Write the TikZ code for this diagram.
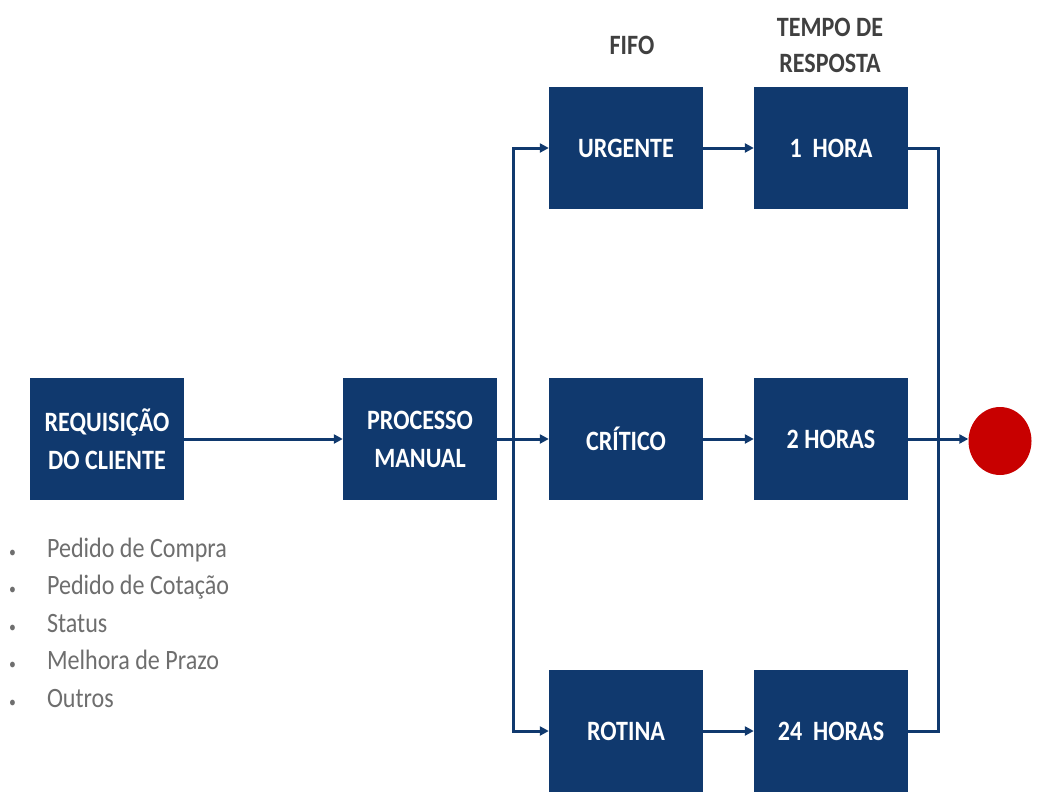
\documentclass[tikz,border=0pt]{standalone}
\usepackage{fontspec}
\setmainfont{Carlito}[FakeStretch=0.86]
\usetikzlibrary{arrows.meta,calc,shapes.geometric}
\definecolor{navy}{RGB}{16,57,110}
\definecolor{lbl}{RGB}{64,64,64}
\definecolor{blt}{RGB}{110,110,110}
\definecolor{endred}{RGB}{200,0,0}
\tikzset{
  blk/.style={fill=navy, draw=none, minimum width=154pt, minimum height=122pt,
    text=white, font=\fontsize{28}{38}\selectfont\bfseries, align=center, inner sep=0pt},
  lab/.style={text=lbl, font=\fontsize{28}{36}\selectfont\bfseries, align=center, inner sep=0pt},
  conn/.style={draw=navy, line width=3pt, -{Triangle[length=9pt,width=9pt]}},
  plain/.style={draw=navy, line width=3pt}
}
\begin{document}
\begin{tikzpicture}[x=1pt,y=-1pt]
\useasboundingbox[fill=white] (0,0) rectangle (1046,792);
% boxes
\node[blk] (req)  at (107,439) {REQUISIÇÃO\\DO CLIENTE};
\node[blk] (proc) at (420,439) {PROCESSO\\MANUAL};
\node[blk] (urg)  at (626,148) {URGENTE};
\node[blk] (h1)   at (831,148) {1\ \ HORA};
\node[blk] (crit) at (626,439) {CRÍTICO};
\node[blk] (h2)   at (831,439) {2 HORAS};
\node[blk] (rot)  at (626,731) {ROTINA};
\node[blk] (h24)  at (831,731) {24\ \ HORAS};
% end circle
\node[fill=endred, draw=none, ellipse, minimum width=63pt, minimum height=68pt, inner sep=0pt] (fim) at (1000,441) {};
% headers
\node[lab] (fifo) at (632,45) {FIFO};
\node[lab] (tempo) at (830,45) {TEMPO DE\\RESPOSTA};
% bullet list
\node[anchor=base west, inner sep=0pt, text=blt, font=\fontsize{28}{37.5}\selectfont] (lista) at (9,557)
 {\begin{tabular}[t]{@{}l@{\hspace{31pt}}l@{}}
  {\fontsize{16}{16}\selectfont\textbullet} & Pedido de Compra\\
  {\fontsize{16}{16}\selectfont\textbullet} & Pedido de Cotação\\
  {\fontsize{16}{16}\selectfont\textbullet} & Status\\
  {\fontsize{16}{16}\selectfont\textbullet} & Melhora de Prazo\\
  {\fontsize{16}{16}\selectfont\textbullet} & Outros
 \end{tabular}};
% split and merge points
\coordinate (sp) at (513,439);
\coordinate (mg) at (938,439);
% connectors
\draw[conn] (req) -- (proc);
\draw[conn] (proc) -- (crit);
\draw[conn] (sp) |- (urg.west);
\draw[conn] (sp) |- (rot.west);
\draw[conn] (urg) -- (h1);
\draw[conn] (crit) -- (h2);
\draw[conn] (rot) -- (h24);
\draw[plain] (h1.east) -| (mg);
\draw[plain] (h24.east) -| (mg);
\draw[conn] (h2.east) -- (fim.west |- h2.east);
\end{tikzpicture}
\end{document}
